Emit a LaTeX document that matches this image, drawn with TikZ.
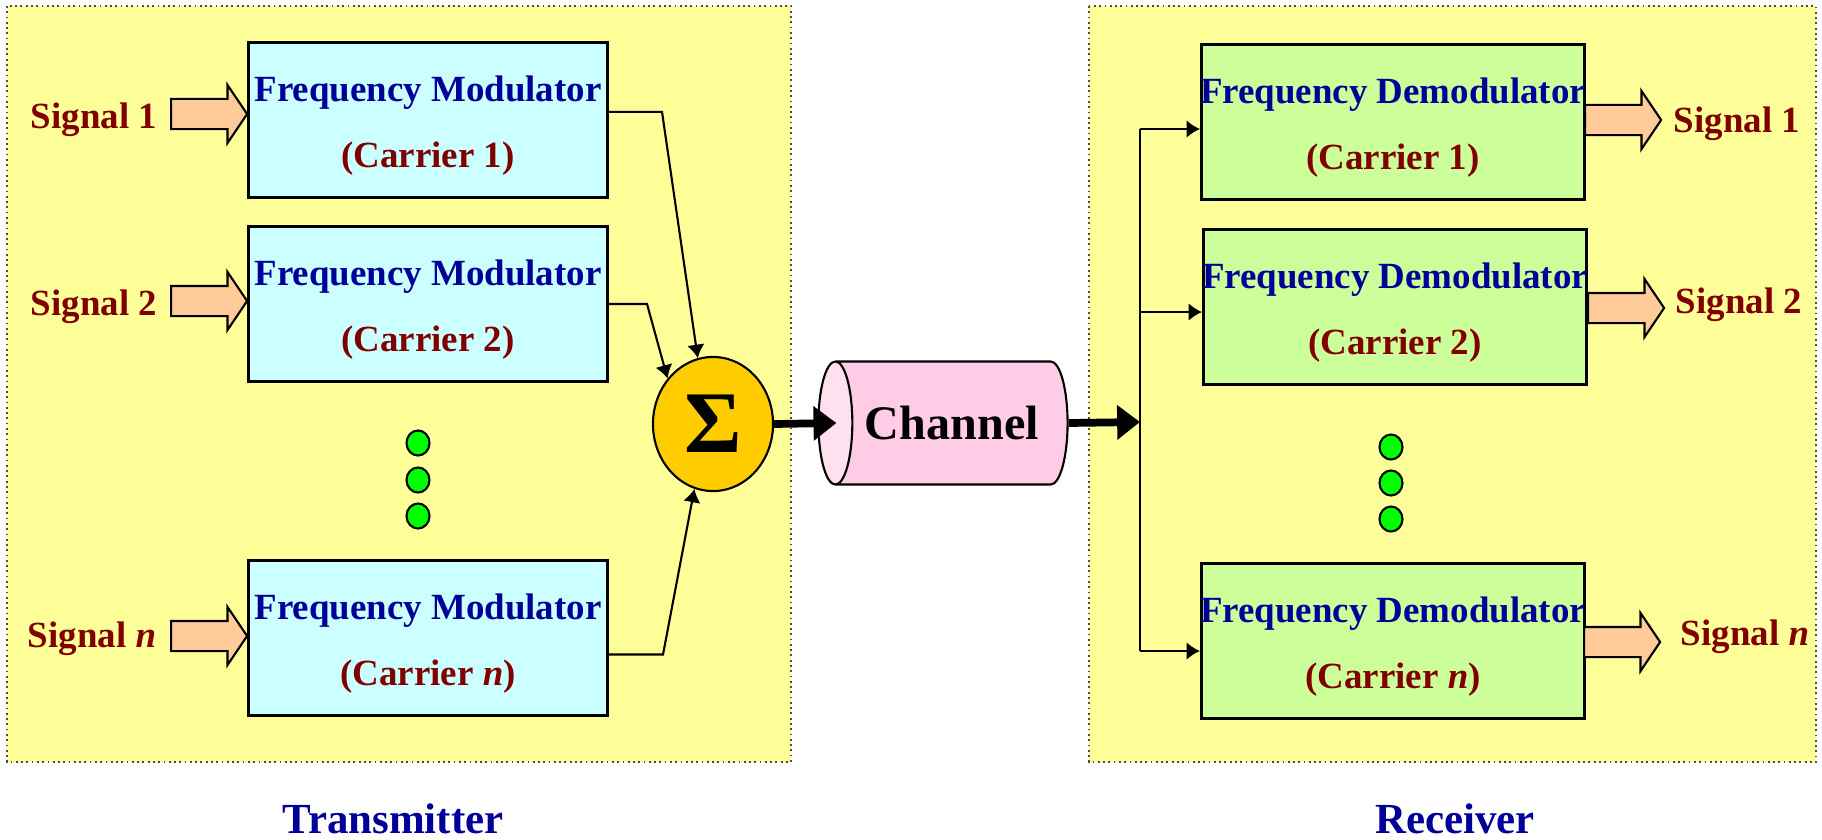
\documentclass[tikz,border=0pt]{standalone}
\usepackage{fontspec}
\setmainfont{Liberation Serif}
\usepackage{tikz}
\usetikzlibrary{arrows,arrows.meta,shapes.geometric,shapes.arrows}

\definecolor{panelyellow}{HTML}{FFFF99}
\definecolor{modcyan}{HTML}{CCFFFF}
\definecolor{demodgreen}{HTML}{CCFF99}
\definecolor{sumgold}{HTML}{FFCC00}
\definecolor{chanpink}{HTML}{FFCCE6}
\definecolor{chanface}{HTML}{FFE0EE}
\definecolor{arrowpeach}{HTML}{FFCC99}
\definecolor{navy}{HTML}{000099}
\definecolor{darkred}{HTML}{800000}

\newcommand{\modlabel}[1]{\rule{0pt}{10.5pt}Frequency Modulator\\ \textcolor{darkred}{(Carrier #1)}}
\newcommand{\demodlabel}[1]{\rule{0pt}{10.5pt}\makebox[0pt]{Frequency Demodulator}\\ \textcolor{darkred}{(Carrier #1)}}

\tikzset{
  panel/.style={fill=panelyellow, draw=black!70, densely dotted, line width=0.5pt},
  modbox/.style={draw=black, line width=0.8pt, fill=modcyan, minimum width=3.59cm,
    minimum height=1.55cm, inner sep=0pt, align=center, text=navy,
    font=\fontsize{10.5}{19}\selectfont\bfseries},
  demodbox/.style={modbox, fill=demodgreen, minimum width=3.83cm},
  dotmark/.style={ellipse, draw, fill=green, line width=0.6pt, minimum width=0.23cm,
    minimum height=0.25cm, inner sep=0pt},
  sigarrow/.style={single arrow, draw, fill=arrowpeach, line width=0.6pt,
    inner xsep=0pt, inner ysep=0.14cm, minimum height=0.76cm,
    single arrow head extend=0.14cm, single arrow tip angle=112},
  siglabel/.style={text=darkred, anchor=base, font=\fontsize{10.5}{12}\selectfont\bfseries},
  panellabel/.style={text=navy, anchor=base, font=\fontsize{12.2}{14}\selectfont\bfseries},
  link/.style={line width=0.6pt, -{Latex[length=3.8pt,width=5pt]}},
  bigarrow/.style={line width=2.2pt, -{Triangle[length=6.5pt,width=9.5pt]}}
}

\begin{document}
\begin{tikzpicture}[x=0.01cm, y=-0.01cm]
  \useasboundingbox (0,0) rectangle (1822,839);

  % transmitter and receiver panels
  \draw[panel] (7,6) rectangle (791,762);
  \draw[panel] (1089,6) rectangle (1816,762);
  \node[panellabel] (txlabel) at (393,833) {Transmitter};
  \node[panellabel] (rxlabel) at (1455,833) {Receiver};

  % modulators
  \node[modbox] (mod1) at (428,120) {\modlabel{1}};
  \node[modbox] (mod2) at (428,304) {\modlabel{2}};
  \node[modbox] (modn) at (428,638) {\modlabel{\textit{n}}};

  \node[sigarrow] (in1) at (204,114) {};
  \node[sigarrow] (in2) at (204,301) {};
  \node[sigarrow] (inn) at (204,636) {};
  \node[siglabel] (sig1) at (94,128) {Signal 1};
  \node[siglabel] (sig2) at (94,315) {Signal 2};
  \node[siglabel] (sign) at (92,647) {Signal \textit{n}};

  \node[dotmark] (tdot1) at (418,443) {};
  \node[dotmark] (tdot2) at (418,480) {};
  \node[dotmark] (tdot3) at (418,516) {};

  % adder and channel
  \node[ellipse, draw, fill=sumgold, line width=0.6pt, minimum width=1.2cm,
    minimum height=1.34cm, inner sep=0pt, font=\fontsize{25}{27}\selectfont\bfseries]
    (sum) at (713,424) {Σ};
  \node[cylinder, shape border rotate=180, draw, line width=0.6pt, aspect=1,
    cylinder uses custom fill, cylinder body fill=chanpink, cylinder end fill=chanface,
    minimum width=1.23cm, minimum height=2.49cm, inner sep=0pt,
    font=\fontsize{13.7}{16}\selectfont\bfseries] (chan) at (952,423) {Channel};

  \draw[link] ([yshift=2.3pt]mod1.east) -- ++(53,0) -- (sum.103);
  \draw[link] (mod2.east) -- ++(38,0) -- (sum.135);
  \draw[link] ([yshift=-4.7pt]modn.east) -- ++(54,0) -- (sum.254);
  \draw[bigarrow] (sum.east) -- ([xshift=5.4pt]chan.west);

  % demodulators
  \node[demodbox] (dem1) at (1393,122) {\demodlabel{1}};
  \node[demodbox] (dem2) at (1395,307) {\demodlabel{2}};
  \node[demodbox] (demn) at (1393,641) {\demodlabel{\textit{n}}};

  \node[sigarrow] (out1) at (1618,120) {};
  \node[sigarrow] (out2) at (1621,308) {};
  \node[sigarrow] (outn) at (1617,642) {};
  \node[siglabel] (osig1) at (1737,132) {Signal 1};
  \node[siglabel] (osig2) at (1739,313) {Signal 2};
  \node[siglabel] (osign) at (1745,645) {Signal \textit{n}};

  \node[dotmark] (rdot1) at (1391,447) {};
  \node[dotmark] (rdot2) at (1391,483) {};
  \node[dotmark] (rdot3) at (1391,519) {};

  % distribution bus
  \coordinate (bus) at (1140,422);
  \coordinate (b1) at (1140,129);
  \coordinate (b2) at (1140,312);
  \coordinate (bn) at (1140,651);
  \draw[bigarrow] (chan.east) -- (bus);
  \draw[line width=0.6pt] (b1) -- (bn);
  \foreach \i in {1,2,n}
    \draw[link] (b\i) -- (b\i -| dem\i.west);
\end{tikzpicture}
\end{document}
